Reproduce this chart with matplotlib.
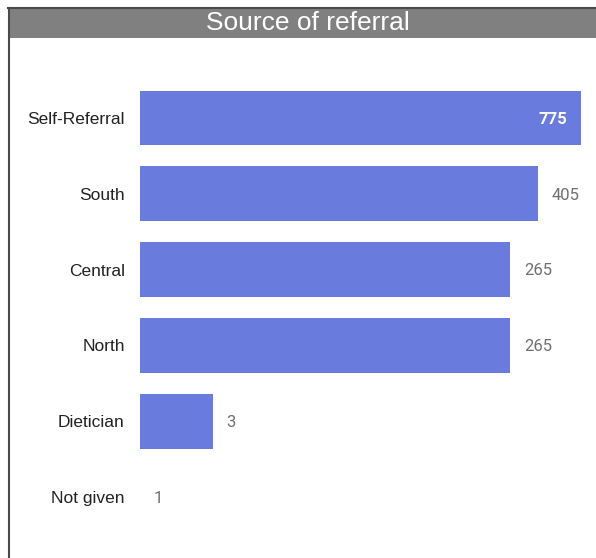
import matplotlib
matplotlib.use("Agg")
import matplotlib.pyplot as plt
from matplotlib.patches import Rectangle
from matplotlib.lines import Line2D

categories = ["Self-Referral", "South", "Central", "North", "Dietician", "Not given"]
values = [775, 405, 265, 265, 3, 1]
title = "Source of referral"

W, H = 596, 558
fig = plt.figure(figsize=(W / 100, H / 100), dpi=100)
fig.patch.set_facecolor("white")

# title bar and frame
fig.add_artist(Rectangle((8 / W, 1 - 38 / H), 1, 30 / H, transform=fig.transFigure,
                         facecolor="#808080", edgecolor="none"))
fig.add_artist(Line2D([8 / W, 1], [1 - 8 / H, 1 - 8 / H], transform=fig.transFigure,
                      color="#4a4a4a", lw=1.5))
fig.add_artist(Line2D([9 / W, 9 / W], [0, 1 - 8 / H], transform=fig.transFigure,
                      color="#4a4a4a", lw=1.5))
fig.text(308 / W, 1 - 23 / H, title, ha="center", va="center", color="white",
         fontsize=19, family="Liberation Sans")

ax = fig.add_axes([140 / W, 1 - 535 / H, (581 - 140) / W, (535 - 80) / H])
ypos = list(range(len(categories)))
ax.barh(ypos, values, height=0.72, color="#6A7BDE")
ax.set_xscale("log")
ax.set_xlim(1, 775)
ax.set_ylim(len(categories) - 0.5, -0.5)
ax.set_yticks(ypos)
ax.set_yticklabels(categories, fontsize=12.5, family="Liberation Sans", color="#222222")
ax.tick_params(axis="y", length=0, pad=11)
ax.set_xticks([])
ax.xaxis.set_minor_locator(matplotlib.ticker.NullLocator())
for s in ax.spines.values():
    s.set_visible(False)

for y, v in zip(ypos, values):
    if v == max(values):
        ax.annotate(str(v), (v, y), xytext=(-10, -1), textcoords="offset points",
                    ha="right", va="center", color="white", fontsize=12,
                    fontweight="bold", family="Roboto")
    else:
        ax.annotate(str(v), (max(v, 1), y), xytext=(10, -1), textcoords="offset points",
                    ha="left", va="center", color="#707070", fontsize=12,
                    family="Roboto")

fig.savefig("out.png", dpi=100)
